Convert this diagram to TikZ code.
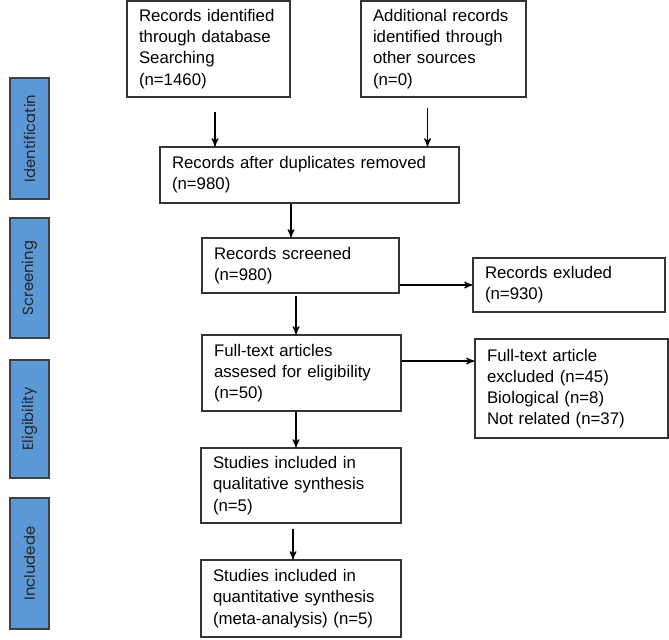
\documentclass[tikz,border=0pt]{standalone}
\usepackage{fontspec}
\setmainfont{Liberation Sans}
\newfontfamily\stagefont{Poppins}
\usetikzlibrary{arrows}
\definecolor{stageblue}{RGB}{91,152,213}

\begin{document}
\begin{tikzpicture}[x=0.5pt, y=-0.5pt, >=stealth',
    recbox/.style={draw=black!80, line width=0.6pt, align=left,
      inner xsep=6pt, inner ysep=0pt,
      font=\fontsize{8.4}{10.6}\selectfont},
    stage/.style={draw=black!75, line width=0.6pt, fill=stageblue,
      rotate=90, minimum height=19.5pt, inner sep=0pt,
      font=\stagefont\fontsize{7.4}{9}\selectfont, text=black!85},
    flow/.style={->, line width=0.55pt}]
      \useasboundingbox (0,0) rectangle (669,639);

      % stage labels
      \node[stage, minimum width=60.5pt] (ident) at (29.5,138.5) {Identificatin};
      \node[stage, minimum width=60pt] (screen) at (29.5,278) {Screening};
      \node[stage, minimum width=59pt] (elig) at (29.5,419) {Eligibility};
      \node[stage, minimum width=65.5pt] (incl) at (29.5,563.5) {Includede};

      % records
      \node[recbox, text width=69.5pt, minimum height=48pt] (db) at (208.5,49)
           {Records identified\\through database\\Searching\\(n=1460)};
      \node[recbox, text width=70.5pt, minimum height=48pt] (other) at (443.5,49)
           {Additional records\\identified through\\other sources\\(n=0)};
      \node[recbox, text width=137.5pt, minimum height=28pt] (dup) at (309.5,175)
           {Records after duplicates removed\\(n=980)};
      \node[recbox, text width=86.5pt, minimum height=27.5pt] (screened) at (300.5,265.5)
           {Records screened\\(n=980)};
      \node[recbox, text width=84pt, minimum height=27pt] (excl) at (569,285)
           {Records exluded\\(n=930)};
      \node[recbox, text width=87.5pt, minimum height=38pt] (fulltext) at (301.5,373)
           {Full-text articles\\assesed for eligibility\\(n=50)};
      \node[recbox, text width=84.5pt, minimum height=49.5pt] (ftexcl) at (571.5,388.5)
           {Full-text article\\excluded (n=45)\\Biological (n=8)\\Not related (n=37)};
      \node[recbox, text width=88pt, minimum height=37.5pt] (qual) at (301,485.5)
           {Studies included in\\qualitative synthesis\\(n=5)};
      \node[recbox, text width=88pt, minimum height=38.5pt] (meta) at (301,598.5)
           {Studies included in\\quantitative synthesis\\(meta-analysis) (n=5)};

      \draw[flow, shorten <=7pt] ([xshift=3.25pt]db.south) -- ([xshift=3.25pt]db.south |- dup.north);
      \draw[flow, shorten <=5pt] ([xshift=-8pt]other.south) -- ([xshift=-8pt]other.south |- dup.north);
      \draw[flow] ([xshift=-9.25pt]dup.south) -- ([xshift=-9.25pt]dup.south |- screened.north);
      \draw[flow, shorten <=1pt] ([xshift=-2.25pt]screened.south) -- ([xshift=-2.25pt]screened.south |- fulltext.north);
      \draw[flow] ([xshift=-2.75pt]fulltext.south) -- ([xshift=-2.75pt]fulltext.south |- qual.north);
      \draw[flow, shorten <=2.5pt] ([xshift=-4pt]qual.south) -- ([xshift=-4pt]qual.south |- meta.north);
      \draw[flow] (screened.east |- excl.west) -- (excl.west);
      \draw[flow] ([yshift=6pt]fulltext.east) -- ([yshift=6pt]fulltext.east -| ftexcl.west);
    \end{tikzpicture}
\end{document}
